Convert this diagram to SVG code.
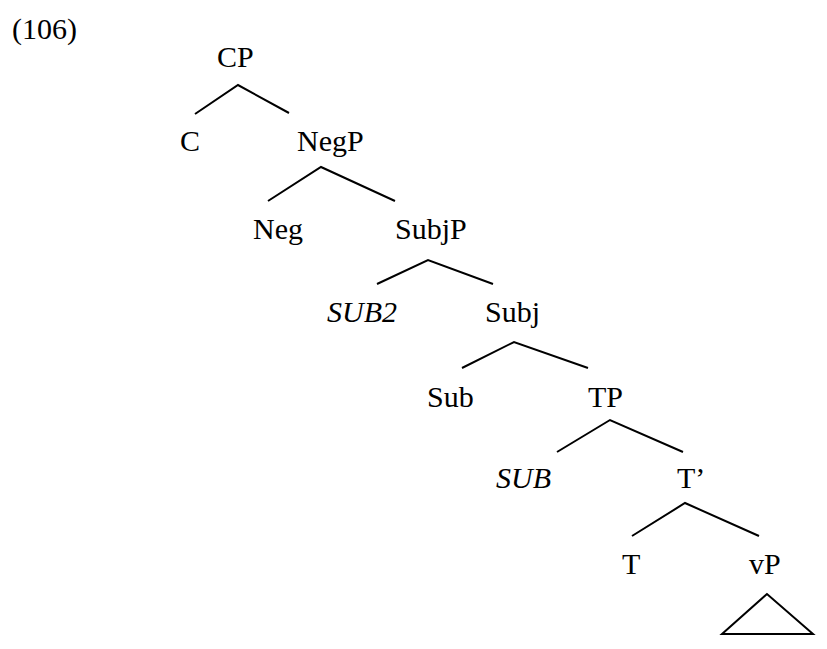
<svg xmlns="http://www.w3.org/2000/svg" width="827" height="649" viewBox="0 0 827 649">
<style>
text{font-family:"Liberation Serif","Times New Roman",serif;font-size:30px;fill:#000}
.i{font-style:italic}
.e{stroke:#000;stroke-width:2;fill:none;stroke-linecap:butt;stroke-linejoin:miter}
</style>
<rect width="827" height="649" fill="#fff"/>
<text x="12" y="39">(106)</text>
<g id="n-CP"><text x="217" y="67">CP</text></g>
<g id="n-C"><text x="180" y="151">C</text></g>
<g id="n-NegP"><text x="297" y="151">NegP</text></g>
<g id="n-Neg"><text x="253" y="239">Neg</text></g>
<g id="n-SubjP"><text x="395" y="239">SubjP</text></g>
<g id="n-SUB2"><text class="i" x="327" y="322">SUB2</text></g>
<g id="n-Subj"><text x="485" y="322">Subj</text></g>
<g id="n-Sub"><text x="427" y="407">Sub</text></g>
<g id="n-TP"><text x="588" y="407">TP</text></g>
<g id="n-SUB"><text class="i" x="496" y="488">SUB</text></g>
<g id="n-Tbar"><text x="677" y="488">T’</text></g>
<g id="n-T"><text x="622" y="574">T</text></g>
<g id="n-vP"><text x="749" y="574">vP</text></g>
<g id="connectors">
<polyline class="e" points="195,114 238,85 289,113"/>
<polyline class="e" points="268,201 321,167 395,201"/>
<polyline class="e" points="377,284 428,260 493,284"/>
<polyline class="e" points="462,368 514,342 588,368"/>
<polyline class="e" points="557,452 610,420 683,452"/>
<polyline class="e" points="632,536 685,503 759,536"/>
<polygon class="e" points="767,594 722,634 813,634"/>
</g>
</svg>
